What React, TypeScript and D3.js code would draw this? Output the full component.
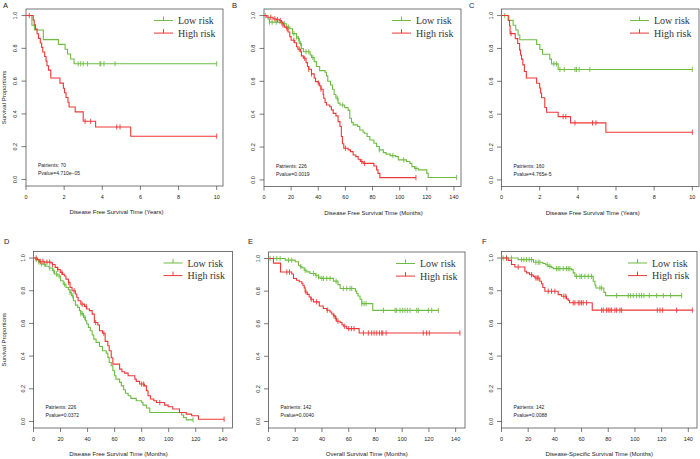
import React from 'react';
import * as d3 from 'd3';

// ---------- DATA ----------
const yTicks = [0, 0.2, 0.4, 0.6, 0.8, 1.0];
const yearTicks = [0, 2, 4, 6, 8, 10];
const monthTicks = [0, 20, 40, 60, 80, 100, 120, 140];
const legendLabels = ['Low risk', 'High risk'];

// Panel A (years)
const aLowT = [0.31, 0.44, 0.91, 1.70, 2.05, 2.18, 2.34, 2.52];
const aLowS = [0.941, 0.912, 0.853, 0.824, 0.794, 0.765, 0.735, 0.706];
const aLowC = [2.74, 2.87, 3.0, 3.22, 3.88, 3.92, 4.09, 4.67, 10];
const aHighT = [0.38, 0.43, 0.50, 0.58, 0.65, 0.75, 0.82, 0.88, 0.98, 1.05, 1.10, 1.18, 1.30, 1.78, 1.96, 2.02, 2.10, 2.20, 2.26, 2.58, 3.00, 3.65, 5.49];
const aHighS = [0.972, 0.944, 0.917, 0.889, 0.861, 0.833, 0.806, 0.778, 0.750, 0.722, 0.694, 0.667, 0.619, 0.588, 0.556, 0.529, 0.500, 0.471, 0.442, 0.412, 0.355, 0.320, 0.264];
const aHighC = [0.17, 3.10, 3.39, 4.76, 4.93, 10];

// Panel B (months)
const bLowT = [3, 4, 11.5, 14, 16.5, 19, 21, 24, 25, 26, 27.5, 29, 34, 35, 37, 38.6, 41, 45, 46, 47, 49, 50.5, 51.7, 53, 54.6, 56, 59.5, 62, 63.2, 64.5, 65.7, 69, 70.6, 73, 74, 76, 78, 81, 83, 85, 88, 90, 93, 97, 99, 105, 107.5, 109, 111, 113.7, 120, 121];
const bLowS = [0.98, 0.96, 0.955, 0.95, 0.93, 0.92, 0.89, 0.87, 0.86, 0.83, 0.80, 0.78, 0.76, 0.745, 0.72, 0.69, 0.665, 0.655, 0.633, 0.60, 0.578, 0.552, 0.52, 0.497, 0.467, 0.456, 0.44, 0.425, 0.375, 0.35, 0.335, 0.325, 0.304, 0.29, 0.284, 0.264, 0.243, 0.223, 0.203, 0.183, 0.166, 0.157, 0.148, 0.142, 0.122, 0.112, 0.101, 0.081, 0.07, 0.061, 0.04, 0.015];
const bLowC = [1, 4, 6, 9, 13, 15, 18, 22, 24, 25.5, 27, 31, 33, 36, 54, 58, 85, 95, 103, 112, 142];
const bHighT = [2, 6.6, 9, 11.5, 12.8, 14, 15, 16.5, 17.7, 19, 20, 22.6, 24, 25, 27, 27.6, 29, 31, 32, 33, 35, 37, 38, 40, 41, 42, 43.6, 44, 45, 46, 48.5, 49.7, 51, 53, 54.6, 56, 57, 57.8, 58.8, 62, 63.7, 65.7, 67.7, 69.4, 71, 73, 81, 83, 84, 85.4];
const bHighS = [0.99, 0.98, 0.975, 0.97, 0.96, 0.943, 0.93, 0.92, 0.90, 0.872, 0.85, 0.835, 0.81, 0.795, 0.78, 0.755, 0.74, 0.714, 0.69, 0.673, 0.645, 0.62, 0.598, 0.59, 0.572, 0.552, 0.52, 0.497, 0.471, 0.456, 0.445, 0.426, 0.405, 0.39, 0.355, 0.325, 0.264, 0.22, 0.193, 0.183, 0.172, 0.152, 0.142, 0.126, 0.112, 0.101, 0.085, 0.061, 0.04, 0.014];
const bHighC = [5, 8, 10, 12, 14, 17, 22, 26, 30, 33, 35, 40, 42, 60, 72, 74, 112];

// Panel C (years)
const cLowT = [0.38, 0.61, 0.75, 0.87, 0.96, 1.84, 2.01, 2.15, 2.53, 2.62, 2.97];
const cLowS = [0.971, 0.941, 0.912, 0.882, 0.853, 0.824, 0.794, 0.765, 0.735, 0.706, 0.672];
const cLowC = [0.17, 2.74, 2.88, 3.06, 3.29, 3.85, 3.93, 4.07, 4.63, 10];
const cHighT = [0.35, 0.42, 0.45, 0.72, 0.85, 0.95, 1.0, 1.05, 1.12, 1.2, 1.3, 1.84, 2.0, 2.05, 2.1, 2.27, 2.36, 2.97, 3.62, 5.47];
const cHighS = [0.97, 0.94, 0.89, 0.86, 0.83, 0.79, 0.76, 0.735, 0.70, 0.66, 0.62, 0.588, 0.559, 0.529, 0.50, 0.441, 0.412, 0.385, 0.347, 0.29];
const cHighC = [0.5, 3.23, 3.37, 3.85, 4.77, 4.95, 10];

// Panel D (months)
const dLowT = [1.7, 3.7, 5.5, 9, 11.6, 14, 15.4, 18, 20, 22, 24, 25.8, 27, 28, 29.5, 31, 32.7, 34, 35, 37, 38.4, 39.4, 40.6, 42, 43.4, 44.6, 46.3, 48.8, 51, 53.8, 55, 56, 57.5, 58.7, 60, 61, 63.7, 65, 66.7, 68, 70, 72, 76, 80, 81, 83.5, 86, 109.5, 111, 113];
const dLowS = [0.99, 0.975, 0.963, 0.95, 0.939, 0.922, 0.902, 0.89, 0.861, 0.84, 0.82, 0.806, 0.79, 0.769, 0.739, 0.712, 0.698, 0.678, 0.66, 0.637, 0.616, 0.596, 0.576, 0.555, 0.529, 0.504, 0.484, 0.459, 0.433, 0.418, 0.392, 0.361, 0.341, 0.31, 0.28, 0.259, 0.239, 0.218, 0.194, 0.173, 0.157, 0.141, 0.127, 0.116, 0.10, 0.082, 0.055, 0.04, 0.024, 0.01];
const dLowC = [2, 4, 6, 8, 12, 15, 17, 19, 23, 27, 29, 35, 36, 38, 118];
const dHighT = [3, 4.2, 8, 13, 14, 16, 17.8, 19.8, 21.5, 22.8, 24, 25.8, 27, 28.5, 31, 32, 33, 35, 37.7, 39.4, 41.4, 43.4, 45, 47.6, 48.8, 51, 53, 55, 56, 57.5, 58.7, 63.7, 65.4, 67.4, 70, 75, 76, 78.5, 82, 83.5, 84.7, 86.5, 89, 91, 97, 99.6, 103, 108, 113, 117, 122];
const dHighS = [0.99, 0.98, 0.975, 0.97, 0.96, 0.943, 0.93, 0.912, 0.90, 0.89, 0.871, 0.851, 0.82, 0.80, 0.78, 0.76, 0.739, 0.718, 0.704, 0.688, 0.678, 0.657, 0.606, 0.59, 0.555, 0.54, 0.49, 0.463, 0.433, 0.39, 0.351, 0.32, 0.304, 0.296, 0.28, 0.259, 0.245, 0.229, 0.218, 0.188, 0.157, 0.137, 0.127, 0.116, 0.10, 0.09, 0.076, 0.055, 0.045, 0.035, 0.014];
const dHighC = [2, 5, 7, 10, 12, 14, 18, 21, 26, 30, 36, 39, 46, 52, 80, 81.5, 93.4, 141];

// Panel E (months)
const eLowT = [12.5, 20, 22.4, 23.7, 25, 26.7, 28.7, 31, 35, 37.4, 38.6, 48.6, 52, 53.6, 65, 66, 67, 68.5, 69.8, 78];
const eLowS = [0.99, 0.98, 0.959, 0.95, 0.943, 0.928, 0.918, 0.908, 0.897, 0.887, 0.878, 0.861, 0.84, 0.816, 0.80, 0.785, 0.77, 0.75, 0.723, 0.682];
const eLowC = [1.2, 3.7, 6.2, 8.7, 15, 17.4, 24.2, 27.4, 33.6, 35.6, 37.4, 39.9, 41.1, 43.6, 46.1, 50.6, 56, 58.5, 61, 62.3, 69.8, 71.5, 73, 86, 94.7, 95.9, 98.4, 100.4, 102.1, 103.9, 105.9, 110.9, 112.1, 119.6, 122.1, 127.1];
const eHighT = [3.7, 9, 17.4, 18.7, 21, 23, 25, 25.7, 26.7, 27.4, 29, 30.4, 31.6, 33.6, 38, 41, 43.6, 46, 47.3, 48.6, 50, 51, 53.6, 55, 56, 58.5, 67.8];
const eHighS = [0.972, 0.917, 0.905, 0.877, 0.867, 0.857, 0.847, 0.836, 0.82, 0.795, 0.78, 0.764, 0.75, 0.734, 0.709, 0.693, 0.683, 0.672, 0.66, 0.648, 0.631, 0.615, 0.607, 0.594, 0.584, 0.57, 0.543];
const eHighC = [13.7, 15.7, 28, 32, 36, 44, 49, 50.5, 52, 57, 60, 62, 64, 71, 74.7, 77.2, 79, 81, 83, 84.7, 85.5, 88, 115.8, 118.3, 120.3, 143.2];

// Panel F (months)
const fLowT = [12.5, 24, 31, 33, 35, 37.5, 38.7, 52.5, 53.7, 55, 68.7, 70, 70.7, 76.7, 78];
const fLowS = [0.99, 0.974, 0.967, 0.959, 0.949, 0.943, 0.935, 0.929, 0.909, 0.888, 0.858, 0.835, 0.817, 0.79, 0.77];
const fLowC = [1.25, 3.75, 7.5, 15, 16.75, 18.75, 20.75, 22.5, 25.75, 27.5, 28.75, 34.25, 36.25, 41.25, 42.5, 43.75, 46.25, 48.75, 50, 51.25, 56.25, 58.75, 60, 62.5, 65, 67.5, 73.75, 75, 86.25, 95, 96.75, 98.75, 101.25, 103.25, 105, 106.75, 110.75, 116.25, 121.25, 126.75, 135];
const fHighT = [5, 7.5, 10, 17.5, 18.7, 21, 23.7, 25, 28.7, 30, 31, 32.5, 42.5, 45, 48.7, 50, 51, 68];
const fHighS = [0.986, 0.96, 0.945, 0.919, 0.909, 0.898, 0.888, 0.878, 0.858, 0.843, 0.82, 0.797, 0.776, 0.766, 0.75, 0.74, 0.726, 0.681];
const fHighC = [3.75, 12.5, 22.5, 25.75, 26.75, 27.5, 35, 37.5, 40, 46.75, 48.25, 53.75, 55, 57.5, 58.75, 60, 61.25, 63.75, 75, 76.25, 78.75, 80, 81.25, 82.5, 85, 86.25, 88.75, 90, 116.75, 118.75, 120.75, 131.25, 143];

const panelLetters = ['A', 'B', 'C', 'D', 'E', 'F'];
const xLabels = [
  'Disease Free Survival Time (Years)',
  'Disease Free Survival Time (Months)',
  'Disease Free Survival Time (Years)',
  'Disease Free Survival Time (Months)',
  'Overall Survival Time (Months)',
  'Disease-Specific Survival Time (Months)',
];
const patientTexts = ['Patrients: 70', 'Patrients: 226', 'Patrients: 160', 'Patrients: 226', 'Patrients: 142', 'Patrients: 142'];
const pvalueTexts = ['Pvalue=4.710e\u221205', 'Pvalue=0.0019', 'Pvalue=4.765e-5', 'Pvalue=0.0372', 'Pvalue=0.0040', 'Pvalue=0.0088'];
const yLabelText = 'Survival Proportions';

// ---------- LAYOUT ----------
const GREEN = '#6dbd43';
const RED = '#ee3737';
const SANS = '"Liberation Sans", Arial, sans-serif';
const SERIF = '"Liberation Serif", "Times New Roman", serif';

type Curve = { t: number[]; s: number[]; c: number[] };
type Layout = {
  l: number; t: number; r: number; b: number; xmax: number; ticks: number[];
  labelDx: number; letterX: number; letterY: number; yLabel: boolean;
};

const layouts: Layout[] = [
  { l: 26, t: 9, r: 223, b: 186, xmax: 10.33, ticks: yearTicks, labelDx: -8, letterX: 3, letterY: 8, yLabel: true },
  { l: 264, t: 9, r: 461, b: 186.5, xmax: 145.2, ticks: monthTicks, labelDx: 11, letterX: 232, letterY: 8, yLabel: false },
  { l: 501.5, t: 9, r: 699, b: 186.5, xmax: 10.35, ticks: yearTicks, labelDx: -7.5, letterX: 469, letterY: 8, yLabel: false },
  { l: 33.5, t: 251.5, r: 232.5, b: 428, xmax: 147.2, ticks: monthTicks, labelDx: -14.5, letterX: 4, letterY: 244, yLabel: true },
  { l: 268.5, t: 252, r: 465, b: 428, xmax: 147, ticks: monthTicks, labelDx: 0, letterX: 248, letterY: 244, yLabel: false },
  { l: 501.5, t: 251.5, r: 697, b: 428, xmax: 146.5, ticks: monthTicks, labelDx: 0, letterX: 482, letterY: 244, yLabel: false },
];

const curves: [Curve, Curve][] = [
  [{ t: aLowT, s: aLowS, c: aLowC }, { t: aHighT, s: aHighS, c: aHighC }],
  [{ t: bLowT, s: bLowS, c: bLowC }, { t: bHighT, s: bHighS, c: bHighC }],
  [{ t: cLowT, s: cLowS, c: cLowC }, { t: cHighT, s: cHighS, c: cHighC }],
  [{ t: dLowT, s: dLowS, c: dLowC }, { t: dHighT, s: dHighS, c: dHighC }],
  [{ t: eLowT, s: eLowS, c: eLowC }, { t: eHighT, s: eHighS, c: eHighC }],
  [{ t: fLowT, s: fLowS, c: fLowC }, { t: fHighT, s: fHighS, c: fHighC }],
];

function survAt(cv: Curve, time: number) {
  const i = d3.bisectRight(cv.t, time);
  return i === 0 ? 1 : cv.s[i - 1];
}

function KMCurve({ cv, x, y, color }: { cv: Curve; x: any; y: any; color: string }) {
  const end = Math.max(d3.max(cv.c) ?? 0, d3.max(cv.t) ?? 0);
  const pts: [number, number][] = [[0, 1], ...cv.t.map((t, i) => [t, cv.s[i]] as [number, number]), [end, cv.s[cv.s.length - 1] ?? 1]];
  const line = d3.line<[number, number]>().x(d => x(d[0])).y(d => y(d[1])).curve(d3.curveStepAfter);
  return (
    <g>
      <path d={line(pts) ?? ''} fill="none" stroke={color} strokeWidth={1.1} />
      {cv.c.map((c, i) => {
        const px = x(c);
        const py = y(survAt(cv, c));
        return <line key={i} x1={px} x2={px} y1={py - 2.6} y2={py + 2.6} stroke={color} strokeWidth={0.9} />;
      })}
    </g>
  );
}

function Panel({ idx }: { idx: number }) {
  const L = layouts[idx];
  const x = d3.scaleLinear().domain([0, L.xmax]).range([L.l, L.r]);
  const y = d3.scaleLinear().domain([-0.04, 1.04]).range([L.b, L.t]);
  const fmt = d3.format('.1f');
  const [low, high] = curves[idx];
  const legendColors = [GREEN, RED];
  const axisColor = '#444';
  return (
    <g>
      <text x={L.letterX} y={L.letterY} fontFamily={SANS} fontSize={7.5} fill="#222">{panelLetters[idx]}</text>
      <rect x={L.l} y={L.t} width={L.r - L.l} height={L.b - L.t} fill="none" stroke="#555" strokeWidth={0.8} />
      {/* y axis */}
      {yTicks.map(v => (
        <g key={'y' + v}>
          <line x1={L.l - 4.5} x2={L.l} y1={y(v)} y2={y(v)} stroke={axisColor} strokeWidth={0.7} />
          <text transform={`translate(${L.l - 9},${y(v)}) rotate(-90)`} textAnchor="middle" fontFamily={SANS} fontSize={5.5} fill="#222">{fmt(v)}</text>
        </g>
      ))}
      {/* x axis */}
      {L.ticks.map(v => (
        <g key={'x' + v}>
          <line x1={x(v)} x2={x(v)} y1={L.b} y2={L.b + 4} stroke={axisColor} strokeWidth={0.7} />
          <text x={x(v)} y={L.b + 12.5} textAnchor="middle" fontFamily={SANS} fontSize={5.5} fill="#222">{v}</text>
        </g>
      ))}
      <text x={(L.l + L.r) / 2 + L.labelDx} y={L.b + 28} textAnchor="middle" fontFamily={SANS} fontSize={6} fill="#222">{xLabels[idx]}</text>
      {L.yLabel && (
        <text transform={`translate(6,${(L.t + L.b) / 2}) rotate(-90)`} textAnchor="middle" fontFamily={SANS} fontSize={6} fill="#222">{yLabelText}</text>
      )}
      <KMCurve cv={low} x={x} y={y} color={GREEN} />
      <KMCurve cv={high} x={x} y={y} color={RED} />
      {/* legend */}
      {legendLabels.map((lab, i) => {
        const ly = L.t + 11.5 + i * 12.6;
        const x1 = L.r - 69, x2 = L.r - 50;
        return (
          <g key={lab}>
            <line x1={x1} x2={x2} y1={ly} y2={ly} stroke={legendColors[i]} strokeWidth={1} />
            <line x1={(x1 + x2) / 2} x2={(x1 + x2) / 2} y1={ly - 4} y2={ly} stroke={legendColors[i]} strokeWidth={1} />
            <text x={L.r - 45} y={ly + 3.5} fontFamily={SERIF} fontSize={10} fill="#333">{lab}</text>
          </g>
        );
      })}
      {/* annotation */}
      <text x={L.l + 12} y={y(0) - 12} fontFamily={SANS} fontSize={5} fill="#222">{patientTexts[idx]}</text>
      <text x={L.l + 12} y={y(0) - 4} fontFamily={SANS} fontSize={5} fill="#222">{pvalueTexts[idx]}</text>
    </g>
  );
}

export default function App() {
  return (
    <svg width={700} height={459} style={{ position: 'absolute', left: 0, top: 0, background: '#fff' }}>
      <rect x={0} y={0} width={700} height={459} fill="#fff" />
      {layouts.map((_, i) => <Panel key={i} idx={i} />)}
    </svg>
  );
}
